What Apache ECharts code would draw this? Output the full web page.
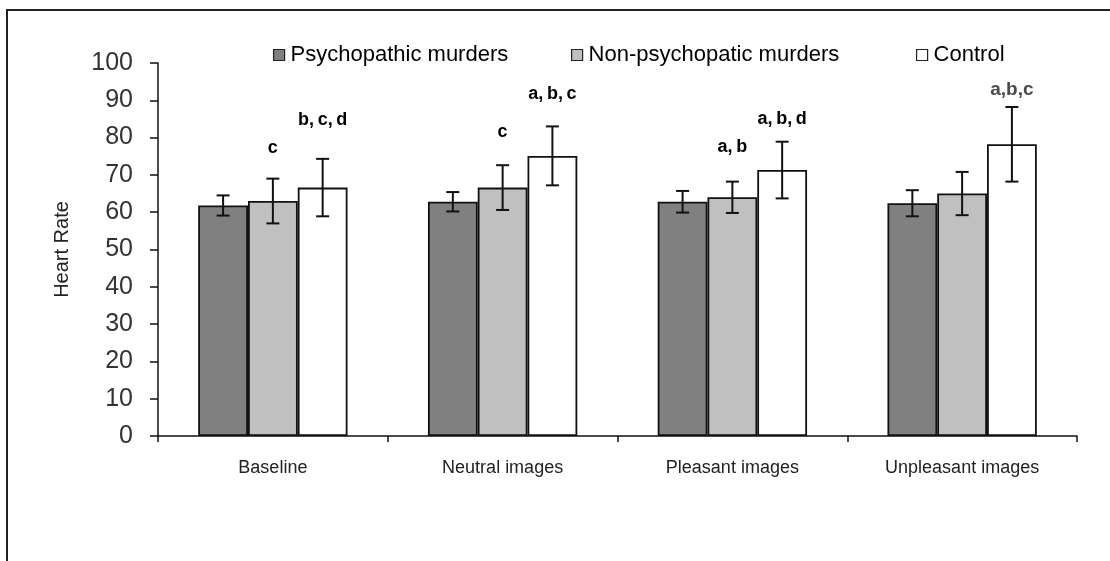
<!DOCTYPE html>
<html>
<head>
<meta charset="utf-8">
<script src="https://cdn.jsdelivr.net/npm/echarts@6/dist/echarts.min.js"></script>
<style>
html,body{margin:0;padding:0;background:#fff;}
#chart{width:1110px;height:561px;}
</style>
</head>
<body>
<div id="chart"></div>
<script>
var categories = ['Baseline', 'Neutral images', 'Pleasant images', 'Unpleasant images'];
var seriesNames = ['Psychopathic murders', 'Non-psychopatic murders', 'Control'];
var psychoValues = [61.8, 62.8, 62.8, 62.4];
var psychoErrors = [2.7, 2.6, 2.9, 3.5];
var nonPsychoValues = [63.0, 66.6, 64.0, 65.0];
var nonPsychoErrors = [6.0, 6.0, 4.2, 5.8];
var controlValues = [66.6, 75.1, 71.3, 78.2];
var controlErrors = [7.7, 7.9, 7.6, 10.0];
var nonPsychoLabels = ['c', 'c', 'a,\u2009b', ''];
var nonPsychoLabelY = [77.3, 81.5, 77.6, null];
var controlLabels = ['b,\u2009c,\u2009d', 'a,\u2009b,\u2009c', 'a,\u2009b,\u2009d', 'a,b,c'];
var controlLabelY = [84.7, 91.7, 85.0, 92.8];
var yTicks = [0, 10, 20, 30, 40, 50, 60, 70, 80, 90, 100];

var FONT = 'Liberation Sans, Arial, sans-serif';
var colors = ['#808080', '#c0c0c0', '#ffffff'];
var CAT_GAP = 0.35;
var NBARS = 3;

function barOffset(api, idx) {
  var catW = api.size([1, 0])[0];
  var bw = catW * (1 - CAT_GAP) / NBARS;
  return (idx - (NBARS - 1) / 2) * bw;
}

function errorSeries(idx, values, errors) {
  var data = values.map(function (v, i) { return [i, v, errors[i]]; });
  return {
    type: 'custom',
    name: seriesNames[idx] + ' err',
    data: data,
    z: 5,
    silent: true,
    renderItem: function (params, api) {
      var c = api.value(0), v = api.value(1), e = api.value(2);
      var top = api.coord([c, v + e]);
      var bot = api.coord([c, v - e]);
      var x = top[0] + barOffset(api, idx);
      var cap = 6.5;
      var st = { stroke: '#111', lineWidth: 2 };
      return {
        type: 'group',
        children: [
          { type: 'line', shape: { x1: x, y1: top[1], x2: x, y2: bot[1] }, style: st },
          { type: 'line', shape: { x1: x - cap, y1: top[1], x2: x + cap, y2: top[1] }, style: st },
          { type: 'line', shape: { x1: x - cap, y1: bot[1], x2: x + cap, y2: bot[1] }, style: st }
        ]
      };
    }
  };
}

function labelSeries(idx, labels, ys) {
  var data = [];
  labels.forEach(function (t, i) { if (t && ys[i] != null) data.push([i, ys[i], t]); });
  return {
    type: 'custom',
    name: seriesNames[idx] + ' lbl',
    data: data,
    z: 6,
    silent: true,
    renderItem: function (params, api) {
      var c = api.value(0), y = api.value(1);
      var p = api.coord([c, y]);
      var x = p[0] + barOffset(api, idx);
      var txt = data[params.dataIndex][2];
      var last = (idx === 2 && c === 3);
      return {
        type: 'text',
        x: x, y: p[1],
        style: {
          text: txt,
          font: 'bold ' + (last ? 19 : 18) + 'px ' + FONT,
          fill: last ? '#4a4a4a' : '#000',
          align: 'center',
          verticalAlign: 'middle'
        }
      };
    }
  };
}

function barSeries(idx, values) {
  return {
    type: 'bar',
    name: seriesNames[idx],
    data: values,
    barGap: '0%',
    barCategoryGap: (CAT_GAP * 100) + '%',
    itemStyle: { color: colors[idx], borderColor: '#111', borderWidth: 1.8 },
    z: 2
  };
}

function legendAt(left, name) {
  return {
    left: left, top: 39,
    data: [name],
    icon: 'rect',
    itemWidth: 11, itemHeight: 11,
    itemGap: 0,
    textStyle: { fontFamily: FONT, fontSize: 22, color: '#000', padding: [0, 0, 0, 1] },
    itemStyle: { borderColor: '#222', borderWidth: 1.2 },
    selectedMode: false
  };
}

var chart = echarts.init(document.getElementById('chart'), null, { renderer: 'canvas' });
chart.setOption({
  animation: false,
  backgroundColor: '#fff',
  graphic: [{
    type: 'rect',
    shape: { x: 7, y: 10, width: 1200, height: 700 },
    style: { fill: 'none', stroke: '#222', lineWidth: 2 },
    z: 0
  }],
  legend: [
    legendAt(268, seriesNames[0]),
    legendAt(566, seriesNames[1]),
    legendAt(911, seriesNames[2])
  ],
  grid: { left: 158, right: 33, top: 63, bottom: 125, containLabel: false },
  xAxis: {
    type: 'category',
    data: categories,
    axisLine: { lineStyle: { color: '#111', width: 1.5 } },
    axisTick: { show: true, interval: 0, length: 6, lineStyle: { color: '#111', width: 1.5 } },
    axisLabel: { interval: 0, fontFamily: FONT, fontSize: 18, color: '#222', margin: 23 }
  },
  yAxis: {
    type: 'value',
    min: 0, max: 100, interval: 10,
    name: 'Heart Rate',
    nameLocation: 'middle',
    nameRotate: 90,
    nameGap: 86,
    nameTextStyle: { fontFamily: FONT, fontSize: 20, color: '#222' },
    splitLine: { show: false },
    axisLine: { show: true, lineStyle: { color: '#111', width: 1.5 } },
    axisTick: { show: true, length: 8, lineStyle: { color: '#111', width: 1.5 } },
    axisLabel: {
      fontFamily: FONT, fontSize: 25, color: '#333', margin: 25,
      formatter: function (v) { return yTicks.indexOf(v) >= 0 ? String(v) : ''; }
    }
  },
  series: [
    barSeries(0, psychoValues),
    barSeries(1, nonPsychoValues),
    barSeries(2, controlValues),
    errorSeries(0, psychoValues, psychoErrors),
    errorSeries(1, nonPsychoValues, nonPsychoErrors),
    errorSeries(2, controlValues, controlErrors),
    labelSeries(1, nonPsychoLabels, nonPsychoLabelY),
    labelSeries(2, controlLabels, controlLabelY)
  ]
});
</script>
</body>
</html>
